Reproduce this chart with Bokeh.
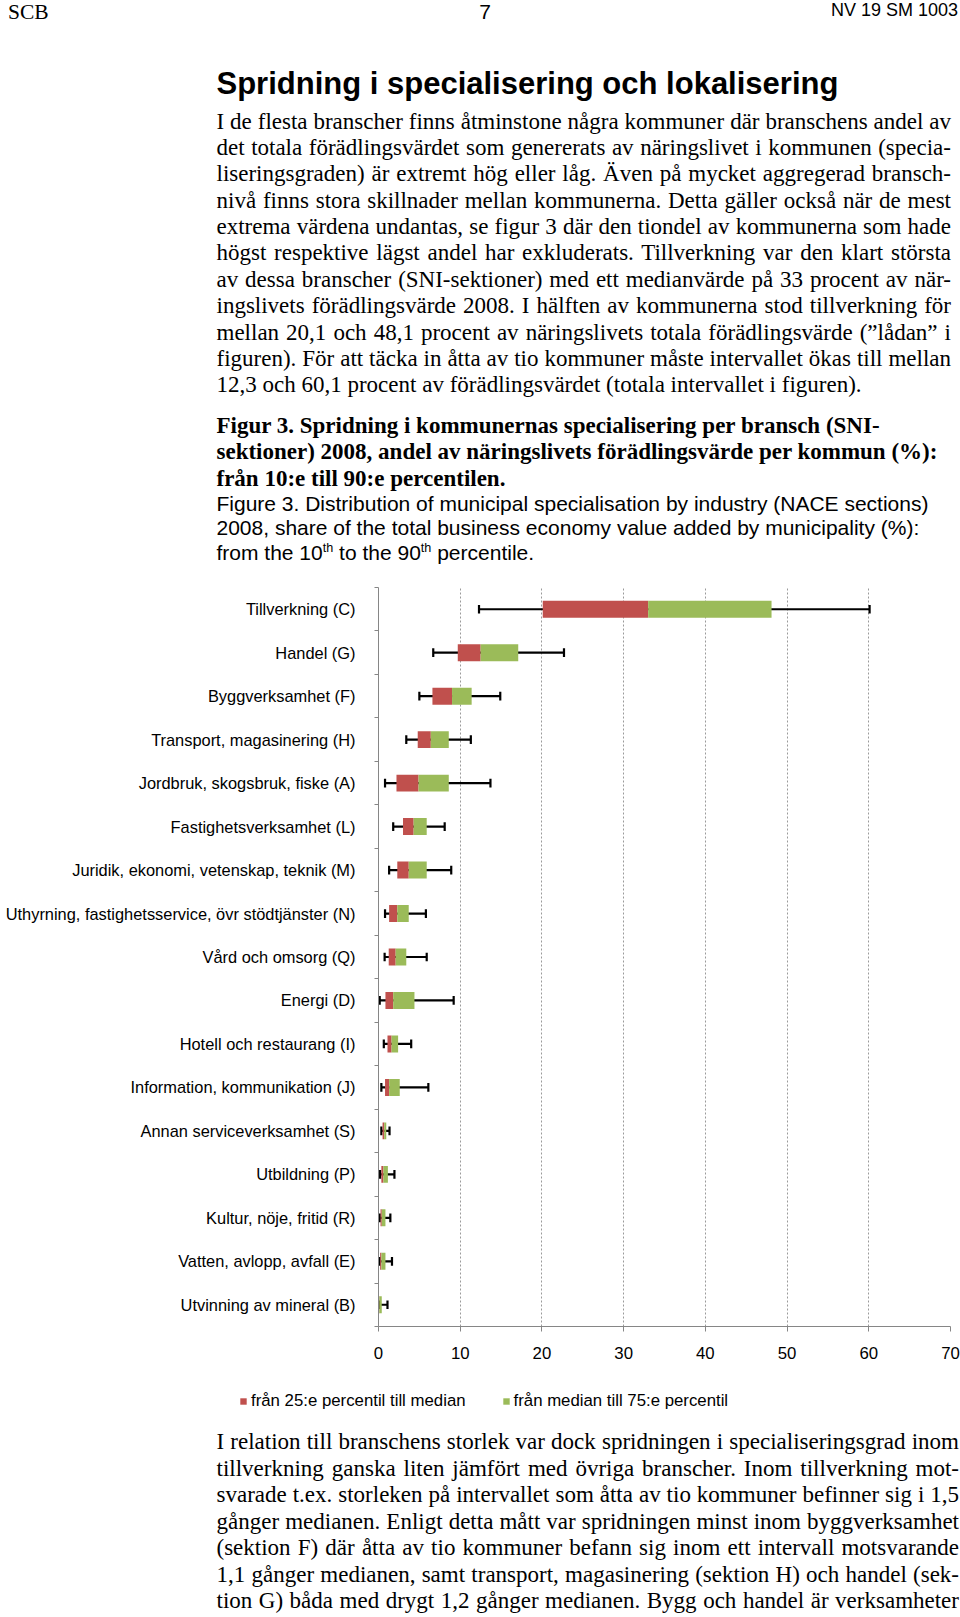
from bokeh.plotting import figure
from bokeh.layouts import column
from bokeh.models import Div, FixedTicker, Legend, LegendItem, ColumnDataSource
from bokeh.embed import file_html
from bokeh.resources import INLINE

# ---------------- data ----------------
categories = [
    "Tillverkning (C)",
    "Handel (G)",
    "Byggverksamhet (F)",
    "Transport, magasinering (H)",
    "Jordbruk, skogsbruk, fiske (A)",
    "Fastighetsverksamhet (L)",
    "Juridik, ekonomi, vetenskap, teknik (M)",
    "Uthyrning, fastighetsservice, övr stödtjänster (N)",
    "Vård och omsorg (Q)",
    "Energi (D)",
    "Hotell och restaurang (I)",
    "Information, kommunikation (J)",
    "Annan serviceverksamhet (S)",
    "Utbildning (P)",
    "Kultur, nöje, fritid (R)",
    "Vatten, avlopp, avfall (E)",
    "Utvinning av mineral (B)",
]
p10 = [12.3, 6.7, 5.0, 3.4, 0.8, 1.8, 1.3, 0.8, 0.75, 0.15, 0.65, 0.35, 0.35, 0.2, 0.15, 0.15, 0.05]
q1 = [20.1, 9.7, 6.6, 4.8, 2.2, 3.0, 2.3, 1.3, 1.25, 0.85, 1.1, 0.8, 0.5, 0.35, 0.25, 0.2, 0.05]
median = [33.0, 12.5, 9.0, 6.4, 4.9, 4.3, 3.7, 2.3, 2.1, 1.8, 1.6, 1.3, 0.7, 0.6, 0.4, 0.35, 0.1]
q3 = [48.1, 17.1, 11.4, 8.6, 8.6, 5.9, 5.9, 3.7, 3.4, 4.4, 2.4, 2.6, 0.95, 1.15, 0.85, 0.85, 0.4]
p90 = [60.1, 22.7, 14.9, 11.3, 13.7, 8.1, 8.9, 5.8, 5.9, 9.2, 4.0, 6.1, 1.35, 1.95, 1.45, 1.65, 1.1]
x_ticks = [0, 10, 20, 30, 40, 50, 60, 70]
legend_labels = ["från 25:e percentil till median", "från median till 75:e percentil"]

header_left = "SCB"
header_mid = "7"
header_right = "NV 19 SM 1003"
title = "Spridning i specialisering och lokalisering"
para1 = [
    "I de flesta branscher finns åtminstone några kommuner där branschens andel av",
    "det totala förädlingsvärdet som genererats av näringslivet i kommunen (specia-",
    "liseringsgraden) är extremt hög eller låg. Även på mycket aggregerad bransch-",
    "nivå finns stora skillnader mellan kommunerna. Detta gäller också när de mest",
    "extrema värdena undantas, se figur 3 där den tiondel av kommunerna som hade",
    "högst respektive lägst andel har exkluderats. Tillverkning var den klart största",
    "av dessa branscher (SNI-sektioner) med ett medianvärde på 33 procent av när-",
    "ingslivets förädlingsvärde 2008. I hälften av kommunerna stod tillverkning för",
    "mellan 20,1 och 48,1 procent av näringslivets totala förädlingsvärde (”lådan” i",
    "figuren). För att täcka in åtta av tio kommuner måste intervallet ökas till mellan",
    "12,3 och 60,1 procent av förädlingsvärdet (totala intervallet i figuren).",
]
caption_sv = [
    "Figur 3. Spridning i kommunernas specialisering per bransch (SNI-",
    "sektioner) 2008, andel av näringslivets förädlingsvärde per kommun (%):",
    "från 10:e till 90:e percentilen.",
]
caption_en = [
    "Figure 3. Distribution of municipal specialisation by industry (NACE sections)",
    "2008, share of the total business economy value added by municipality (%):",
    "from the 10<sup>th</sup> to the 90<sup>th</sup> percentile.",
]
para2 = [
    "I relation till branschens storlek var dock spridningen i specialiseringsgrad inom",
    "tillverkning ganska liten jämfört med övriga branscher. Inom tillverkning mot-",
    "svarade t.ex. storleken på intervallet som åtta av tio kommuner befinner sig i 1,5",
    "gånger medianen. Enligt detta mått var spridningen minst inom byggverksamhet",
    "(sektion F) där åtta av tio kommuner befann sig inom ett intervall motsvarande",
    "1,1 gånger medianen, samt transport, magasinering (sektion H) och handel (sek-",
    "tion G) båda med drygt 1,2 gånger medianen. Bygg och handel är verksamheter",
]

# ---------------- text helpers ----------------
SERIF = "'Liberation Serif', 'Times New Roman', serif"
SANS = "'Liberation Sans', Arial, sans-serif"
PAGE_W = 960


def line(text, left, center, width, lh, font, align="left", justify=False):
    top = center - lh / 2
    st = (f"position:absolute;left:{left}px;top:{top:.1f}px;width:{width}px;height:{lh}px;"
          f"line-height:{lh}px;font:{font};white-space:nowrap;color:#000;text-align:{align};")
    if justify:
        st += "text-align:justify;text-align-last:justify;"
    return f'<div style="{st}">{text}</div>'


def block(parts, w, h):
    return (f'<div style="position:relative;width:{w}px;height:{h}px;overflow:visible;">'
            + "".join(parts) + "</div>")


# top block (page y 0 .. 568)
TOP_H = 568
parts = []
parts.append(line(header_left, 8, 9.5, 60, 19, f"21.5px {SERIF}"))
parts.append(line(header_mid, 465, 9.5, 40, 19, f"21px {SANS}", align="center"))
parts.append(line(header_right, 708, 9.5, 250, 19, f"18px {SANS}", align="right"))
parts.append(line(title, 216.5, 83.5, 720, 36, f"bold 31px {SANS}"))
for i, t in enumerate(para1):
    parts.append(line(t, 216.5, 121.7 + 26.39 * i, 734.5, 26.4, f"23px {SERIF}",
                      justify=(i < len(para1) - 1)))
for i, t in enumerate(caption_sv):
    parts.append(line(t, 216.5, 425.9 + 26.8 * i, 734.5, 26.8, f"bold 23px {SERIF}"))
sup_css = "<style>sup{font-size:0.6em;vertical-align:super;line-height:0;}</style>"
for i, t in enumerate(caption_en):
    parts.append(line(t, 216.5, 504.2 + 24.25 * i, 734.5, 24.2, f"21px {SANS}"))
top_div = Div(text=sup_css + block(parts, PAGE_W, TOP_H), width=PAGE_W, height=TOP_H,
              margin=0, styles={"overflow": "visible"})

# ---------------- chart (page y 568 .. 1380) ----------------
n = len(categories)
ypos = [n - i for i in range(n)]
bounds = [k + 0.5 for k in range(0, n + 1)]

src = ColumnDataSource(dict(cat=categories, y=ypos, p10=p10, q1=q1, med=median, q3=q3, p90=p90,
                            ylo=[v - 0.1 for v in ypos], yhi=[v + 0.1 for v in ypos]))

FIG_H = 812
BL, FW, BT, FH = 378, 572, 19, 739
p = figure(width=PAGE_W, height=FIG_H, x_range=(0, 70), y_range=(0.5, n + 0.5),
           output_backend="svg", toolbar_location=None,
           min_border_left=BL, min_border_right=PAGE_W - BL - FW,
           min_border_top=BT, min_border_bottom=FIG_H - BT - FH, margin=0)
p.outline_line_color = None
p.background_fill_color = "white"
p.border_fill_color = "white"

# whiskers
p.segment(x0="p10", x1="p90", y0="y", y1="y", source=src, line_color="black", line_width=2.2)
p.segment(x0="p10", x1="p10", y0="ylo", y1="yhi", source=src, line_color="black", line_width=2.2)
p.segment(x0="p90", x1="p90", y0="ylo", y1="yhi", source=src, line_color="black", line_width=2.2)
# boxes
p.hbar(y="y", left="q1", right="med", height=0.39, source=src,
       fill_color="#C0504D", line_color=None)
p.hbar(y="y", left="med", right="q3", height=0.39, source=src,
       fill_color="#9BBB59", line_color=None)

# axes
p.xaxis.ticker = FixedTicker(ticks=x_ticks)
p.xaxis.axis_line_color = "#868686"
p.xaxis.major_tick_line_color = "#868686"
p.xaxis.major_tick_out = 5
p.xaxis.major_tick_in = 0
p.xaxis.minor_tick_line_color = None
p.xaxis.major_label_standoff = 15
p.xaxis.major_label_text_font = "Liberation Sans"
p.xaxis.major_label_text_font_size = "16.8px"
p.xaxis.major_label_text_color = "#000000"

p.yaxis.ticker = FixedTicker(ticks=ypos, minor_ticks=bounds)
p.yaxis.major_label_overrides = {y: c for y, c in zip(ypos, categories)}
p.yaxis.axis_line_color = "#868686"
p.yaxis.major_tick_line_color = None
p.yaxis.major_tick_out = 0
p.yaxis.major_tick_in = 0
p.yaxis.minor_tick_line_color = "#868686"
p.yaxis.minor_tick_out = 4
p.yaxis.minor_tick_in = 0
p.yaxis.major_label_standoff = 19
p.yaxis.major_label_text_font = "Liberation Sans"
p.yaxis.major_label_text_font_size = "16.4px"
p.yaxis.major_label_text_color = "#000000"

p.xgrid.grid_line_color = "#9A9A9A"
p.xgrid.grid_line_dash = "2 2"
p.xgrid.grid_line_width = 1
p.ygrid.visible = False

# ---------------- legend strip (page y 1380 .. 1420) ----------------
LEG_H = 40
pl = figure(width=PAGE_W, height=LEG_H, x_range=(0, 1), y_range=(0, 1),
            output_backend="svg", toolbar_location=None, tools="", frame_align=False,
            min_border_left=0, min_border_right=0, min_border_top=0, min_border_bottom=0,
            margin=0)
pl.axis.visible = False
pl.xgrid.grid_line_color = None
pl.ygrid.grid_line_color = None
pl.outline_line_color = None
pl.background_fill_color = "white"
pl.border_fill_color = "white"
# swatch renderers: their single bar lies outside the visible ranges, only the legend shows them
swatch = ColumnDataSource(dict(y=[5], left=[5], right=[6]))
lr1 = pl.hbar(y="y", left="left", right="right", height=0.5, source=swatch,
              fill_color="#C0504D", line_color=None)
lr2 = pl.hbar(y="y", left="left", right="right", height=0.5, source=swatch,
              fill_color="#9BBB59", line_color=None)
legend = Legend(items=[LegendItem(label=legend_labels[0], renderers=[lr1]),
                       LegendItem(label=legend_labels[1], renderers=[lr2])],
                location=(239, 9), orientation="horizontal",
                glyph_width=8, glyph_height=8, label_standoff=4, spacing=36,
                padding=0, margin=0, border_line_color=None, background_fill_alpha=0,
                label_text_font="Liberation Sans", label_text_font_size="16.8px",
                label_text_color="#000000")
pl.add_layout(legend, "center")

# ---------------- bottom block (page y 1420 .. 1617) ----------------
BOT_H = 197
parts2 = []
for i, t in enumerate(para2):
    parts2.append(line(t, 216.5, 22.6 + 26.45 * i, 742.5, 26.4, f"23px {SERIF}", justify=True))
bot_div = Div(text=block(parts2, PAGE_W, BOT_H), width=PAGE_W, height=BOT_H,
              margin=0, styles={"overflow": "visible"})

layout = column(top_div, p, pl, bot_div, spacing=0)
open("out.html", "w").write(file_html(layout, INLINE))
